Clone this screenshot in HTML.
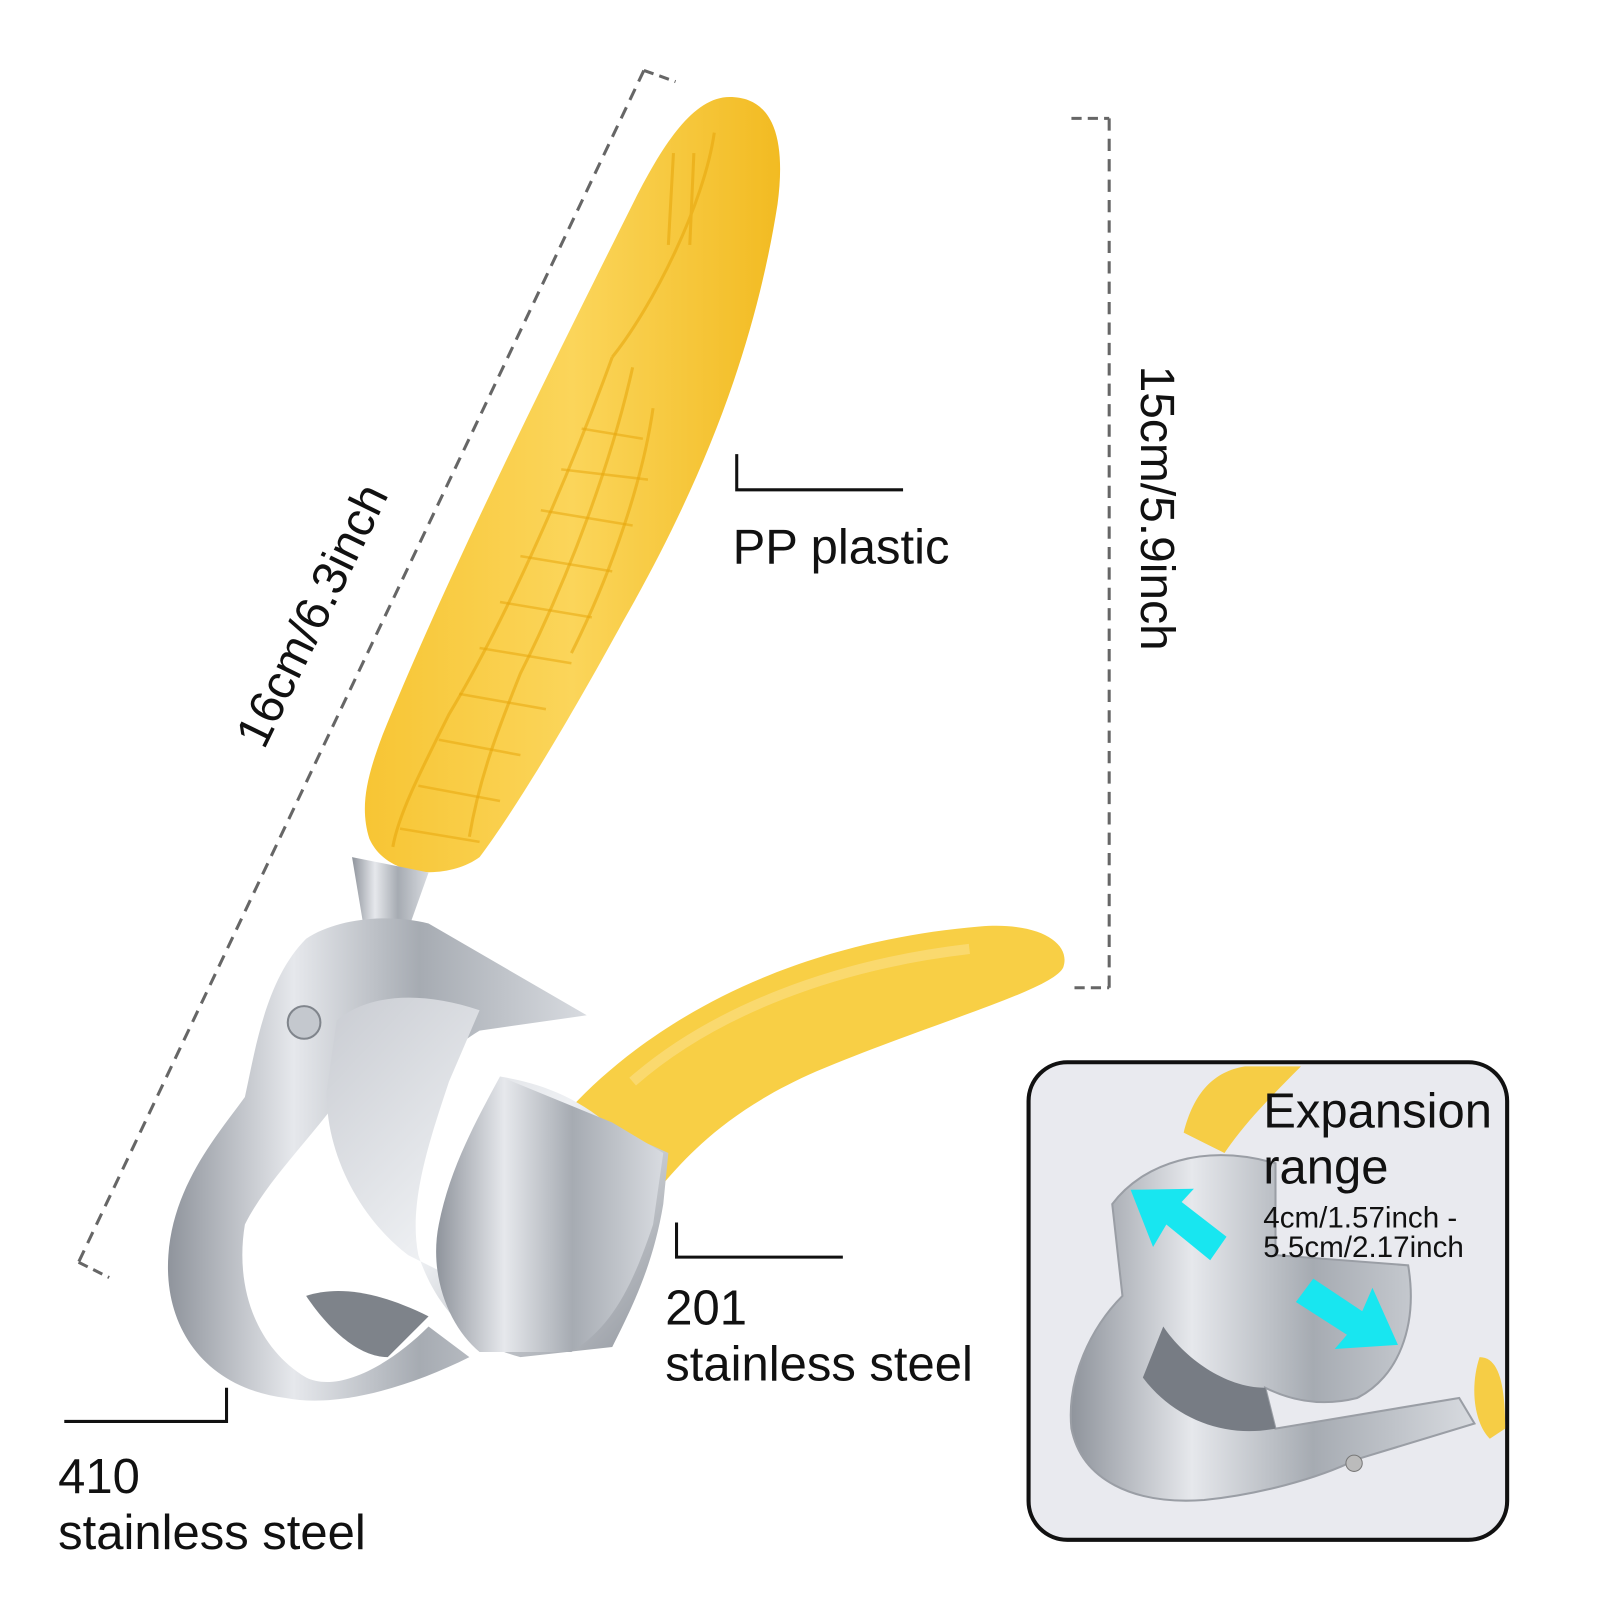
<!DOCTYPE html>
<html><head><meta charset="utf-8"><style>
html,body{margin:0;padding:0;background:#fff;}
svg{display:block;}
text{font-family:"Liberation Sans",Arial,sans-serif;fill:#111;}
</style></head><body>
<svg width="1600" height="1600" viewBox="0 0 1568 1568" xmlns="http://www.w3.org/2000/svg">
<defs>
<linearGradient id="y1" x1="0" y1="0" x2="1" y2="0">
<stop offset="0" stop-color="#f7c534"/><stop offset="0.5" stop-color="#fbd55a"/><stop offset="1" stop-color="#f2bb22"/></linearGradient>
<linearGradient id="m1" x1="0" y1="0" x2="1" y2="0">
<stop offset="0" stop-color="#8f949c"/><stop offset="0.3" stop-color="#e6e8ec"/><stop offset="0.6" stop-color="#a6abb2"/><stop offset="1" stop-color="#d8dbe0"/></linearGradient>
<linearGradient id="m2" x1="0" y1="0" x2="1" y2="1">
<stop offset="0" stop-color="#c9ccd2"/><stop offset="0.5" stop-color="#eef0f3"/><stop offset="1" stop-color="#8e939b"/></linearGradient>
</defs>

<g stroke="#666" stroke-width="3" fill="none" stroke-dasharray="12,8">
<line x1="631" y1="69" x2="77" y2="1237"/>
<line x1="1087" y1="116" x2="1087" y2="968"/>
</g>
<g stroke="#666" stroke-width="3" fill="none">
<line x1="631" y1="69" x2="662" y2="80" stroke-dasharray="10,6"/>
<line x1="77" y1="1237" x2="107" y2="1252" stroke-dasharray="10,6"/>
<line x1="1050" y1="116" x2="1087" y2="116" stroke-dasharray="10,6"/>
<line x1="1053" y1="968" x2="1087" y2="968" stroke-dasharray="10,6"/>
</g>
<text x="0" y="0" font-size="47" transform="translate(320,610) rotate(-64)" text-anchor="middle">16cm/6.3inch</text>
<text x="0" y="0" font-size="47" transform="translate(1118,498) rotate(90)" text-anchor="middle">15cm/5.9inch</text>

<path d="M715,95 C760,95 770,140 762,200 C740,340 690,470 610,610 C550,720 500,800 470,840 C440,862 380,862 362,822 C352,790 360,760 375,720 C440,560 540,360 620,200 C650,140 680,95 715,95 Z" fill="url(#y1)"/>
<g stroke="#e8a80e" stroke-width="3" fill="none" opacity="0.6">
<path d="M600,350 C560,460 500,600 440,700 C410,760 390,800 385,830"/>
<path d="M620,360 C600,450 560,560 510,660 C490,710 470,760 460,820"/>
<path d="M640,400 C630,470 600,560 560,640"/>
<path d="M600,350 C640,300 690,200 700,130"/>
<path d="M660,150 L655,240 M680,150 L676,240"/>
</g>
<g stroke="#e8a80e" stroke-width="2.5" opacity="0.55">
<line x1="570" y1="420" x2="630" y2="430"/><line x1="550" y1="460" x2="635" y2="470"/>
<line x1="530" y1="500" x2="620" y2="515"/><line x1="510" y1="545" x2="600" y2="560"/>
<line x1="490" y1="590" x2="580" y2="605"/><line x1="470" y1="635" x2="560" y2="650"/>
<line x1="450" y1="680" x2="535" y2="695"/><line x1="430" y1="725" x2="510" y2="740"/>
<line x1="410" y1="770" x2="490" y2="785"/><line x1="392" y1="812" x2="470" y2="825"/>
</g>

<path d="M560,1085 C630,1010 760,925 960,908 C1020,903 1050,925 1042,948 C1032,970 920,1000 800,1050 C720,1085 680,1125 650,1160 L620,1145 C600,1115 580,1100 560,1085 Z" fill="#f8cf45"/>
<path d="M620,1060 C700,990 820,945 950,930" stroke="#fbe08a" stroke-width="10" fill="none" opacity="0.6"/>

<path d="M345,840 L420,855 L395,925 L360,930 Z" fill="url(#m1)"/>
<path d="M300,920 C330,900 380,895 420,905 L575,995 L470,1010 C420,1040 400,1080 395,1100 L330,1080 C300,1120 260,1160 240,1200 C230,1260 250,1320 300,1350 C330,1365 380,1340 420,1300 L460,1330 C400,1360 330,1380 280,1370 C200,1360 160,1300 165,1230 C170,1160 215,1110 240,1075 C250,1030 260,960 300,920 Z" fill="url(#m1)"/>
<path d="M330,1000 C360,975 410,970 470,990 L440,1060 C420,1120 400,1180 410,1230 C430,1290 470,1320 510,1330 L600,1320 C620,1280 640,1240 650,1180 L655,1130 L600,1105 C560,1070 520,1060 490,1055 L480,1110 C440,1150 430,1200 440,1250 L400,1230 C360,1200 320,1140 320,1070 Z" fill="url(#m2)"/>
<path d="M490,1055 L600,1100 L650,1130 L640,1200 C620,1260 600,1300 560,1325 L470,1325 C440,1300 420,1250 430,1200 C440,1150 460,1110 490,1055 Z" fill="url(#m1)"/>
<circle cx="298" cy="1002" r="16" fill="#c4c8ce" stroke="#80858c" stroke-width="2"/>
<path d="M300,1270 C330,1260 370,1265 420,1290 L380,1330 C350,1330 320,1300 300,1270 Z" fill="#7e838a"/>

<g stroke="#111" stroke-width="3" fill="none">
<polyline points="722,445 722,480 885,480"/>
<polyline points="663,1198 663,1232 826,1232"/>
<polyline points="222,1360 222,1393 63,1393"/>
</g>
<text x="718" y="552" font-size="48">PP plastic</text>
<text x="652" y="1298" font-size="48">201</text>
<text x="652" y="1353" font-size="48">stainless steel</text>
<text x="57" y="1463" font-size="48">410</text>
<text x="57" y="1518" font-size="48">stainless steel</text>

<rect x="1008" y="1041" width="469" height="468" rx="38" fill="#e9eaef" stroke="#111" stroke-width="4"/>
<path d="M1160,1110 C1170,1070 1190,1050 1220,1045 L1275,1045 C1250,1070 1220,1100 1200,1130 Z" fill="#f6cd45"/>
<path d="M1450,1330 C1470,1330 1475,1360 1475,1400 L1460,1410 C1445,1395 1440,1360 1450,1330 Z" fill="#f6cd45"/>
<path d="M1090,1180 C1120,1140 1180,1120 1250,1140 L1250,1230 L1380,1240 C1390,1300 1370,1350 1330,1370 C1290,1380 1260,1370 1240,1360 L1250,1400 L1430,1370 L1445,1395 L1330,1430 C1290,1450 1230,1465 1180,1470 C1110,1475 1060,1450 1050,1400 C1045,1350 1070,1300 1100,1270 Z" fill="url(#m1)" stroke="#9a9ea5" stroke-width="2"/>
<path d="M1140,1300 C1160,1330 1200,1360 1240,1360 L1250,1400 C1200,1410 1150,1390 1120,1350 Z" fill="#777c84"/>
<circle cx="1327" cy="1434" r="8" fill="#bbb" stroke="#777"/>
<polygon points="1108,1166 1170,1165 1158,1178 1202,1212 1186,1235 1143,1200 1130,1222" fill="#18e6f0"/>
<polygon points="1370,1318 1308,1322 1320,1308 1270,1276 1287,1253 1335,1285 1345,1262" fill="#18e6f0"/>
<text x="1238" y="1105" font-size="48">Expansion</text>
<text x="1238" y="1160" font-size="48">range</text>
<text x="1238" y="1203" font-size="29">4cm/1.57inch -</text>
<text x="1238" y="1232" font-size="29">5.5cm/2.17inch</text>
</svg>
</body></html>
